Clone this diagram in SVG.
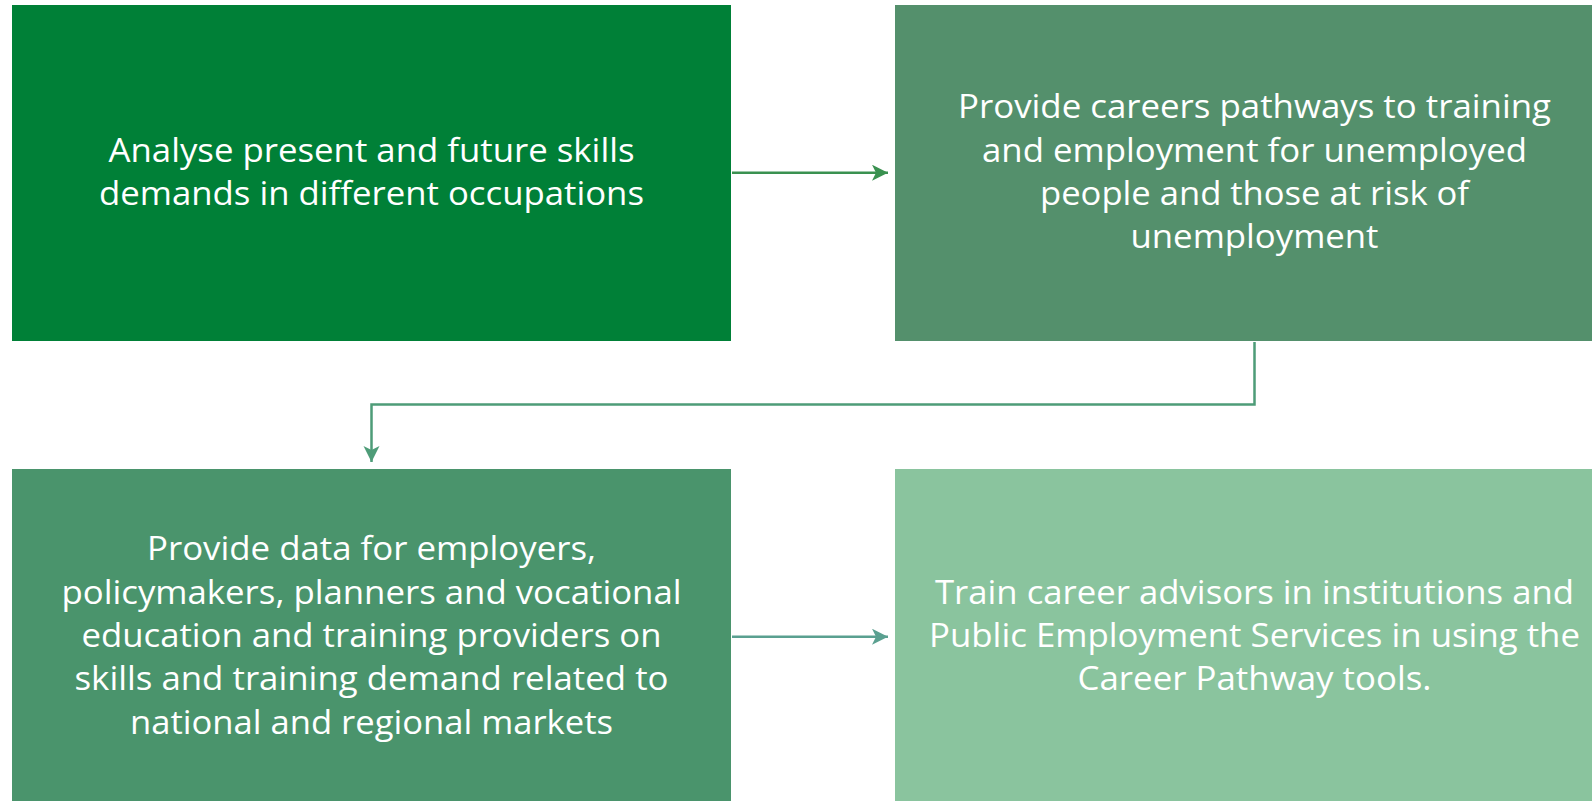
<svg xmlns="http://www.w3.org/2000/svg" width="1592" height="801" viewBox="0 0 1592 801">
<style>
.t{font-family:"Open Sans","Liberation Sans",sans-serif;font-size:32px;fill:#ffffff;text-anchor:middle}
.c{fill:none;stroke-width:2.5}
</style>
<defs>
<marker id="a1" markerUnits="userSpaceOnUse" markerWidth="20" markerHeight="20" refX="16" refY="8" orient="auto"><path d="M0,0 L16,8 L0,16 L4,8 Z" fill="#3a9150"/></marker>
<marker id="a2" markerUnits="userSpaceOnUse" markerWidth="20" markerHeight="20" refX="16" refY="8" orient="auto"><path d="M0,0 L16,8 L0,16 L4,8 Z" fill="#5aa090"/></marker>
<marker id="a3" markerUnits="userSpaceOnUse" markerWidth="20" markerHeight="20" refX="16" refY="8" orient="auto"><path d="M0,0 L16,8 L0,16 L4,8 Z" fill="#4e9c78"/></marker>
</defs>
<rect width="1592" height="801" fill="#ffffff"/>
<g id="node1">
<rect x="12" y="5" width="719" height="336" fill="#008037"/>
<text class="t" x="371.5" y="161.7" textLength="526" lengthAdjust="spacingAndGlyphs">Analyse present and future skills</text>
<text class="t" x="371.5" y="205" textLength="545" lengthAdjust="spacingAndGlyphs">demands in different occupations</text>
</g>
<g id="node2">
<rect x="895" y="5" width="719" height="336" fill="#54906c"/>
<text class="t" x="1254.5" y="118.4" textLength="593" lengthAdjust="spacingAndGlyphs">Provide careers pathways to training</text>
<text class="t" x="1254.5" y="161.7" textLength="545" lengthAdjust="spacingAndGlyphs">and employment for unemployed</text>
<text class="t" x="1254.5" y="205" textLength="429" lengthAdjust="spacingAndGlyphs">people and those at risk of</text>
<text class="t" x="1254.5" y="248.3" textLength="248" lengthAdjust="spacingAndGlyphs">unemployment</text>
</g>
<g id="node3">
<rect x="12" y="469" width="719" height="336" fill="#4a946c"/>
<text class="t" x="371.5" y="560.4" textLength="449" lengthAdjust="spacingAndGlyphs">Provide data for employers,</text>
<text class="t" x="371.5" y="603.7" textLength="620" lengthAdjust="spacingAndGlyphs">policymakers, planners and vocational</text>
<text class="t" x="371.5" y="647" textLength="580" lengthAdjust="spacingAndGlyphs">education and training providers on</text>
<text class="t" x="371.5" y="690.3" textLength="594" lengthAdjust="spacingAndGlyphs">skills and training demand related to</text>
<text class="t" x="371.5" y="733.6" textLength="483" lengthAdjust="spacingAndGlyphs">national and regional markets</text>
</g>
<g id="node4">
<rect x="895" y="469" width="719" height="336" fill="#8ac49e"/>
<text class="t" x="1254.5" y="603.7" textLength="639" lengthAdjust="spacingAndGlyphs">Train career advisors in institutions and</text>
<text class="t" x="1254.5" y="647" textLength="651" lengthAdjust="spacingAndGlyphs">Public Employment Services in using the</text>
<text class="t" x="1254.5" y="690.3" textLength="354" lengthAdjust="spacingAndGlyphs">Career Pathway tools.</text>
</g>
<g id="connectors">
<path class="c" d="M732,172.7 L888,172.7" stroke="#3a9150" marker-end="url(#a1)"/>
<path class="c" d="M1254.5,342 L1254.5,404.5 L371.5,404.5 L371.5,462" stroke="#4e9c78" marker-end="url(#a3)"/>
<path class="c" d="M732,636.7 L888,636.7" stroke="#5aa090" marker-end="url(#a2)"/>
</g>
</svg>
